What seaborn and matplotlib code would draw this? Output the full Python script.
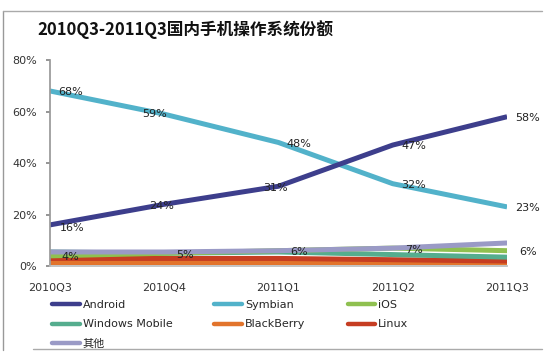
import pandas as pd
import matplotlib.pyplot as plt
import seaborn as sns
from matplotlib.lines import Line2D

quarters = ['2010Q3', '2010Q4', '2011Q1', '2011Q2', '2011Q3']
android = [16, 24, 31, 47, 58]
symbian = [68, 59, 48, 32, 23]
ios = [4, 5, 6, 7, 6]
windows_mobile = [5.5, 5, 5.5, 4.5, 3.5]
blackberry = [1.5, 1.5, 1.5, 1.5, 1.5]
linux = [3, 3, 3, 2.5, 2]
others = [5.5, 5.5, 6, 7, 9]

series_names = ['Android', 'Symbian', 'iOS', 'Windows Mobile', 'BlackBerry', 'Linux', '其他']
series_vals = [android, symbian, ios, windows_mobile, blackberry, linux, others]
labelled = ['Android', 'Symbian', 'iOS']

rows = []
for name, vals in zip(series_names, series_vals):
    for i, (q, v) in enumerate(zip(quarters, vals)):
        rows.append({'x': i, 'Quarter': q, 'OS': name, 'Share': v / 100})
df = pd.DataFrame(rows)

sns.set_theme(style="white")
plt.rcParams['font.family'] = ['DejaVu Sans', 'Noto Sans CJK SC']
plt.rcParams['axes.unicode_minus'] = False

palette = {'Android': '#3d3e8c', 'Symbian': '#52b2ca', 'iOS': '#8fc050',
           'Windows Mobile': '#55ad8e', 'BlackBerry': '#e2742c', 'Linux': '#c63d22',
           '其他': '#9a9ac6'}

fig = plt.figure(figsize=(5.47, 3.53), dpi=100)
ax = fig.add_axes([0.091, 0.246, 0.836, 0.584])

draw_order = ['BlackBerry', 'Linux', 'Windows Mobile', 'iOS', '其他', 'Symbian', 'Android']
for name in draw_order:
    sub = df[df['OS'] == name]
    sns.lineplot(data=sub, x='x', y='Share', color=palette[name], linewidth=3.6,
                 ax=ax, legend=False, solid_capstyle='butt')

# label offsets (points): most sit to the right of the point
special = {('Android', 1): (-2, -1), ('Android', 2): (-2, -1), ('Android', 0): (16, -2),
           ('Symbian', 1): (-7, 0)}
for name in labelled:
    sub = df[df['OS'] == name].reset_index(drop=True)
    for i, r in sub.iterrows():
        dx, dy = special.get((name, i), (15, -1))
        ax.annotate(f"{int(round(r['Share'] * 100))}%", (r['x'], r['Share']),
                    xytext=(dx, dy), textcoords='offset points',
                    ha='center', va='center', fontsize=8, color='#222222')

ax.set_xlim(0, len(quarters) - 1)
ax.set_ylim(0, 0.8)
ax.set_xticks(range(len(quarters)))
ax.set_xticklabels(quarters)
ax.set_yticks([0, 0.2, 0.4, 0.6, 0.8])
ax.set_yticklabels(['0%', '20%', '40%', '60%', '80%'])
ax.tick_params(axis='both', labelsize=8, labelcolor='#333333')
ax.tick_params(axis='y', left=True, length=3, color='#888888', pad=6)
ax.tick_params(axis='x', bottom=False, pad=6)
ax.set_xlabel('')
ax.set_ylabel('')
for s in ['top', 'right']:
    ax.spines[s].set_visible(False)
ax.spines['left'].set_color('#999999')
ax.spines['bottom'].set_color('#bbbbbb')

# legend, filled row by row like the original
leg_order = ['Android', 'Windows Mobile', '其他', 'Symbian', 'BlackBerry', 'iOS', 'Linux']
handles = [Line2D([], [], color=palette[n], linewidth=3.2) for n in leg_order]
fig.legend(handles, leg_order, ncol=3, loc='upper left',
           bbox_to_anchor=(0.095, 0.15), frameon=False, fontsize=8,
           handlelength=2.5, handletextpad=0.25, columnspacing=3.8,
           labelspacing=0.85, borderaxespad=0, borderpad=0)

fig.text(0.068, 0.9, '2010Q3-2011Q3国内手机操作系统份额', fontsize=12,
         fontweight='bold', color='#111111', family=['Noto Sans CJK SC', 'DejaVu Sans'])

# frame lines of the original screenshot
fig.add_artist(Line2D([0.006, 0.006], [0.008, 0.97], transform=fig.transFigure,
                      color='#999999', linewidth=1))
fig.add_artist(Line2D([0.006, 0.99], [0.97, 0.97], transform=fig.transFigure,
                      color='#aaaaaa', linewidth=1))
fig.add_artist(Line2D([0.06, 0.99], [0.01, 0.01], transform=fig.transFigure,
                      color='#aaaaaa', linewidth=1))

fig.savefig('out.png', dpi=100)
